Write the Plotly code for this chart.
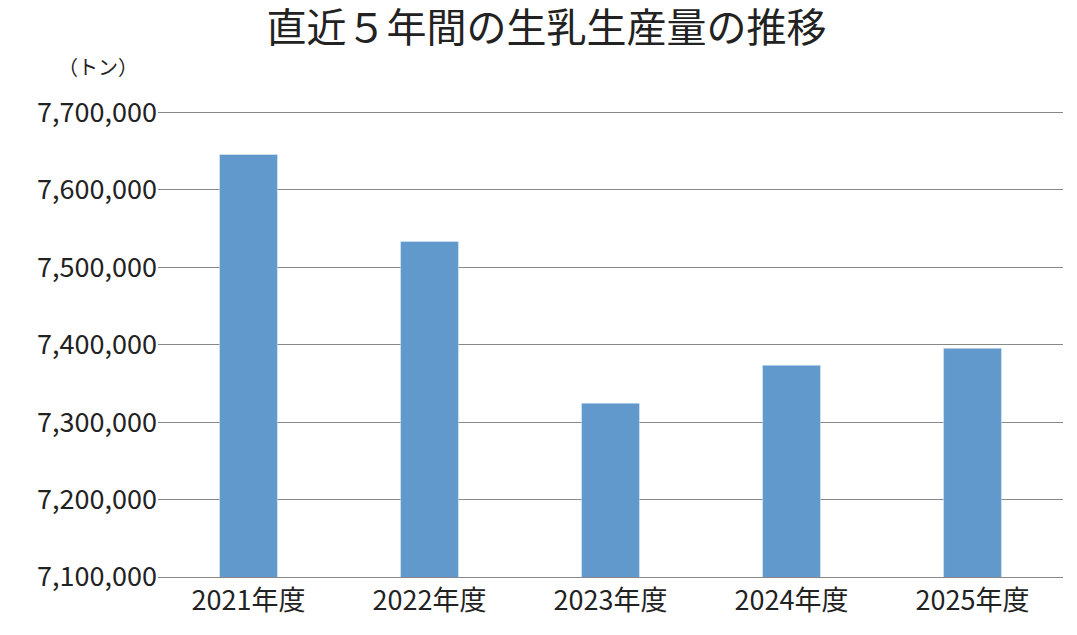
import plotly.graph_objects as go

years = ["2021年度", "2022年度", "2023年度", "2024年度", "2025年度"]
production = [7645800, 7533500, 7324500, 7373500, 7395500]
tick_vals = [7100000, 7200000, 7300000, 7400000, 7500000, 7600000, 7700000]

font = "Noto Sans CJK JP"

fig = go.Figure(go.Bar(x=years, y=production, marker_color="#6199cc", width=0.32))

fig.update_layout(
    width=1077, height=635,
    paper_bgcolor="white", plot_bgcolor="white",
    margin=dict(l=150, r=22, t=103, b=66),
    font=dict(family=font, color="#222222", size=27),
    title=dict(text="直近５年間の生乳生産量の推移", x=0.5, xanchor="center",
               y=0.99, yanchor="top", font=dict(size=40, color="#222222")),
    showlegend=False,
    annotations=[dict(text="（トン）", x=-0.02, y=1.06, xref="paper", yref="paper",
                      xanchor="right", yanchor="bottom",
                      showarrow=False, font=dict(size=20))],
)
fig.update_yaxes(range=[7100000, 7702000], tickvals=tick_vals, tickformat=",",
                 showgrid=True, gridcolor="#888888", gridwidth=1,
                 showline=False, zeroline=False, ticks="", ticklen=0)
fig.update_xaxes(showline=True, linecolor="#888888", ticks="")

fig.write_html("out.html")
